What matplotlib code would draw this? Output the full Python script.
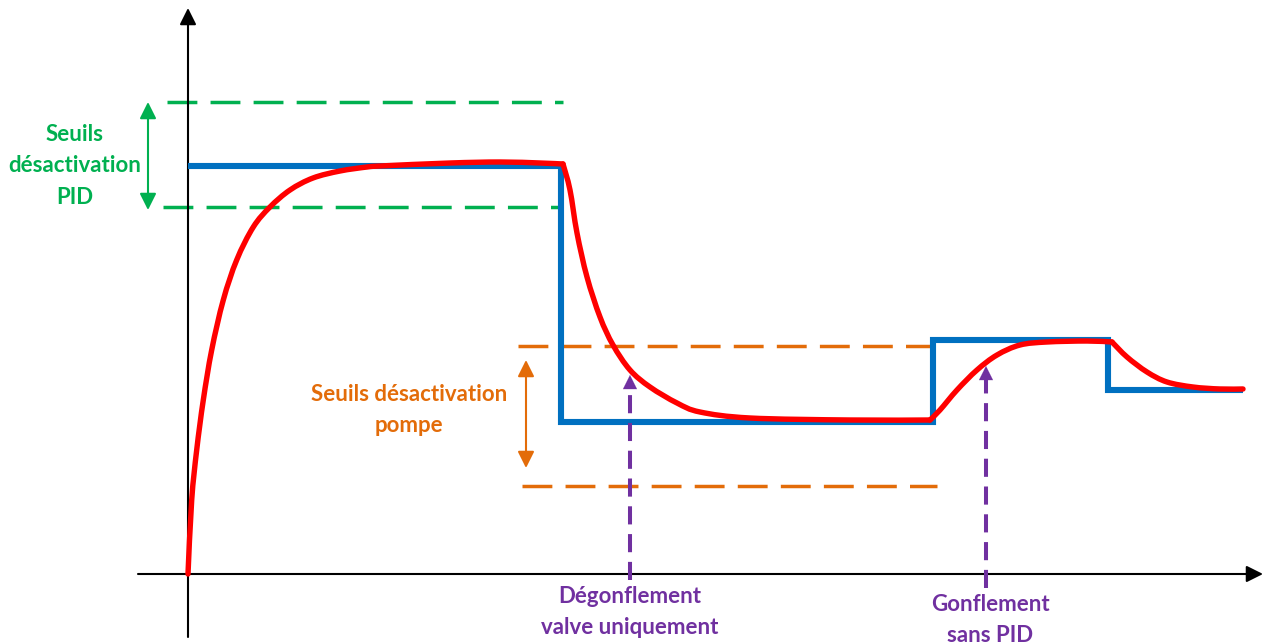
import matplotlib.pyplot as plt
from matplotlib.patches import ArrowStyle, PathPatch
from matplotlib.path import Path

# chart units: time t (horizontal), pressure p (vertical), origin at the axes crossing
setpoint_t = [0, 373, 373, 745, 745, 920, 920, 1055]
setpoint_p = [408, 408, 152, 152, 234, 234, 184, 184]

# response, split where the curve has a sharp corner
rise_t = [0, 3.7, 8.7, 15.3, 23.7, 35.3, 48.7, 65.3, 82, 102, 125, 152, 179, 192,
          262, 312, 352, 375]
rise_p = [0, 74, 124, 174, 224, 274, 314, 347, 367, 384, 396, 403, 407, 408,
          411, 412, 411, 410]
deflate_t = [375, 382, 389, 399, 412, 425, 442, 462, 489, 512, 562, 662, 742]
deflate_p = [410, 384, 341, 297, 257, 229, 204, 187, 171, 162, 156, 154, 154]
inflate_t = [742, 752, 769, 789, 809, 832, 859, 899, 924]
inflate_p = [154, 164, 184, 204, 219, 229, 232, 233, 232]
settle_t = [924, 939, 959, 979, 1005, 1032, 1055]
settle_p = [232, 217, 202, 192, 187, 185, 185]

pid_thresholds = [472, 367]
pid_span = [(-21, 375), (-25, 375)]
pump_thresholds = [228, 88]
pump_span = [(330, 745), (334, 749)]

labels_pid = "Seuils\ndésactivation\nPID"
labels_pump = "Seuils désactivation\npompe"
label_deflate = "Dégonflement\nvalve uniquement"
label_inflate = "Gonflement\nsans PID"

GREEN = "#00B050"
ORANGE = "#E36C09"
PURPLE = "#7030A0"
BLUE = "#0070C0"
RED = "#FF0000"

fig = plt.figure(figsize=(12.65, 6.43), dpi=100)
ax = fig.add_axes([0, 0, 1, 1])
ax.set_xlim(-188, 1077)
ax.set_ylim(-69, 574)
ax.axis("off")

head = ArrowStyle("-|>", head_length=10, head_width=5)
dbl = ArrowStyle("<|-|>", head_length=10, head_width=5)


def arrow(x0, y0, x1, y1, color, style=head, lw=1.5):
    ax.annotate("", xy=(x1, y1), xytext=(x0, y0),
                arrowprops=dict(arrowstyle=style, color=color, lw=lw,
                                mutation_scale=1, shrinkA=0, shrinkB=0))


def smooth_path(ts, ps):
    # catmull-rom through the read points, drawn as cubic bezier pieces
    pts = list(zip(ts, ps))
    ext = [pts[0]] + pts + [pts[-1]]
    verts = [pts[0]]
    codes = [Path.MOVETO]
    for i in range(1, len(ext) - 2):
        p0, p1, p2, p3 = ext[i - 1], ext[i], ext[i + 1], ext[i + 2]
        c1 = (p1[0] + (p2[0] - p0[0]) / 6, p1[1] + (p2[1] - p0[1]) / 6)
        c2 = (p2[0] - (p3[0] - p1[0]) / 6, p2[1] - (p3[1] - p1[1]) / 6)
        verts += [c1, c2, p2]
        codes += [Path.CURVE4] * 3
    return Path(verts, codes)


# axes
arrow(0, -63, 0, 566, "black")
arrow(-50, 0, 1075, 0, "black")

# thresholds
for p, (a, b) in zip(pid_thresholds, pid_span):
    ax.plot([a, b], [p, p], color=GREEN, lw=2.5, linestyle=(0, (8.6, 3.8)))
for p, (a, b) in zip(pump_thresholds, pump_span):
    ax.plot([a, b], [p, p], color=ORANGE, lw=2.5, linestyle=(0, (8.6, 3.8)))

arrow(-40, 364, -40, 472, GREEN, style=dbl)
arrow(338, 106, 338, 214, ORANGE, style=dbl)

# setpoint and response
ax.plot(setpoint_t, setpoint_p, color=BLUE, lw=4.4, solid_joinstyle="miter",
        solid_capstyle="butt", zorder=3)
for ts, ps in [(rise_t, rise_p), (deflate_t, deflate_p),
               (inflate_t, inflate_p), (settle_t, settle_p)]:
    ax.add_patch(PathPatch(smooth_path(ts, ps), fill=False, edgecolor=RED, lw=3.9,
                           joinstyle="round", capstyle="round", zorder=4))

# purple markers
for t, p0, p1 in [(442, -6, 199), (798, -14, 208)]:
    ax.plot([t, t], [p0, p1 - 12], color=PURPLE, lw=2.9, linestyle=(0, (4.5, 2.4)),
            zorder=5)
    arrow(t, p1 - 13, t, p1, PURPLE, lw=0.1)

font = dict(family="Lato", weight="bold", fontsize=16, ha="center", va="center",
            linespacing=1.6)
ax.text(-113, 408, labels_pid, color=GREEN, **font)
ax.text(221, 164, labels_pump, color=ORANGE, **font)
ax.text(442, -38, label_deflate, color=PURPLE, **font)
ax.text(802, -46, label_inflate, color=PURPLE, **font)

fig.savefig("out.png", dpi=100)
